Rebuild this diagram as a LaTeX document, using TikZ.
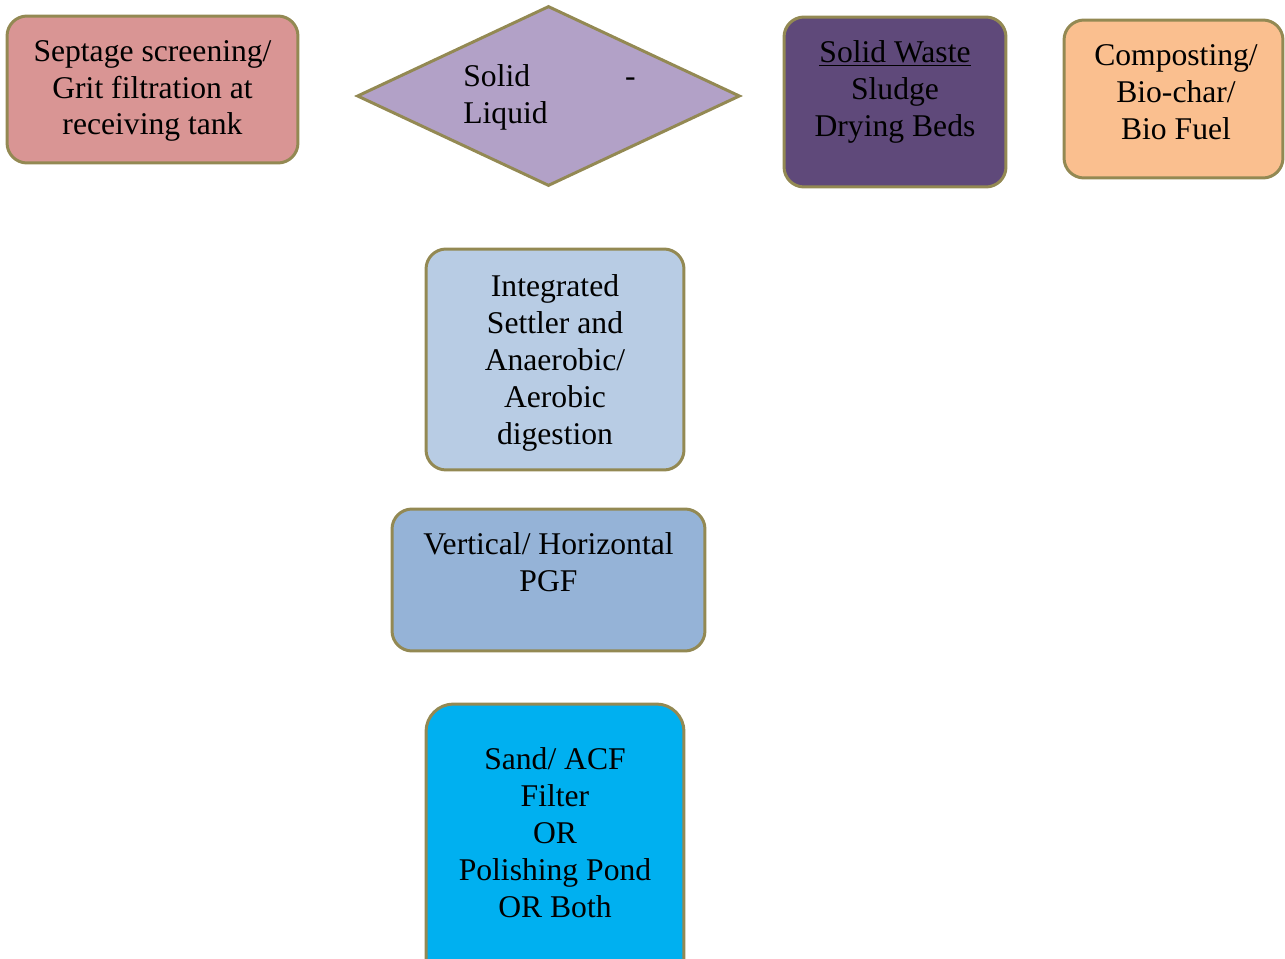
\documentclass[tikz,border=0pt]{standalone}
\usepackage{fontspec}
\setmainfont{Liberation Serif}
\usetikzlibrary{shapes.geometric}

\begin{document}
\begin{tikzpicture}[x=0.02cm,y=-0.02cm,
% Styles
box/.style={draw=edgecolor,line width=1.7pt,rounded corners=0.4cm,inner sep=0pt},
txt/.style={align=center,inner sep=0pt,font=\fontsize{18}{21}\selectfont}]
% Colors
\definecolor{edgecolor}{HTML}{938953}
\definecolor{septagecolor}{HTML}{D99594}
\definecolor{splitcolor}{HTML}{B2A1C7}
\definecolor{wastecolor}{HTML}{5F497A}
\definecolor{compostcolor}{HTML}{FABF8F}
\definecolor{settlercolor}{HTML}{B8CCE4}
\definecolor{pgfcolor}{HTML}{95B3D7}
\definecolor{sandcolor}{HTML}{00B0F0}
\clip (0,0) rectangle (1285,959);
% top row
\node[box,fill=septagecolor,minimum width=5.82cm,minimum height=2.94cm] (septage) at (152.5,89.5) {};
\node[txt] (septagetxt) at (152.5,91) {Septage screening/\\Grit filtration at\\receiving tank};
\node[draw=edgecolor,line width=1.7pt,fill=splitcolor,diamond,shape aspect=2.13,
  minimum width=7.66cm,minimum height=3.6cm,inner sep=0pt] (split) at (548.5,96) {};
\node[txt,align=left,anchor=west] (splittxt) at (463,97.5) {Solid\hspace{1.9cm}-\\Liquid};
\node[box,fill=wastecolor,minimum width=4.44cm,minimum height=3.4cm] (waste) at (895,102) {};
\node[txt] (wastetxt) at (895,92) {\underline{Solid Waste}\\Sludge\\Drying Beds};
\node[box,fill=compostcolor,minimum width=4.38cm,minimum height=3.16cm] (compost) at (1173.5,99) {};
\node[txt] (composttxt) at (1176,92) {Composting/\\Bio-char/\\Bio Fuel};
% liquid line
\node[box,fill=settlercolor,minimum width=5.16cm,minimum height=4.42cm] (settler) at (555,359.5) {};
\node[txt] (settlertxt) at (555,363) {Integrated\\Settler and\\Anaerobic/\\Aerobic\\digestion};
\node[box,fill=pgfcolor,minimum width=6.26cm,minimum height=2.84cm] (pgf) at (548.5,580) {};
\node[txt] (pgftxt) at (548.5,562.5) {Vertical/ Horizontal\\PGF};
\node[box,fill=sandcolor,rounded corners=0.55cm,minimum width=5.16cm,minimum height=5.8cm] (sand) at (555,849) {};
\node[txt] (sandtxt) at (555,832.5) {Sand/ ACF\\Filter\\OR\\Polishing Pond\\OR Both};
\end{tikzpicture}
\end{document}
